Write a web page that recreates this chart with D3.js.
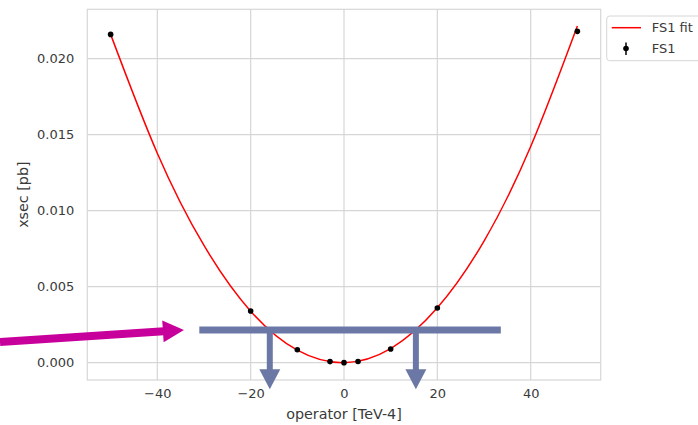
<!DOCTYPE html>
<html>
<head>
<meta charset="utf-8">
<script src="https://cdn.jsdelivr.net/npm/d3@7"></script>
<style>
  body { margin: 0; background: #fff; }
  svg { display: block; font-family: "DejaVu Sans", sans-serif; }
</style>
</head>
<body>
<svg id="chart" width="698" height="425"></svg>
<script>
// measured points (operator value, cross section)
var pointX = [-50, -20, -10, -3, 0, 3, 10, 20, 50];
var pointY = [0.0216, 0.0034, 0.00085, 0.00007, 0.0, 0.00008, 0.0009, 0.0036, 0.0218];

// fit curve
var fitX = [-50, -40, -30, -20, -10, 0, 10, 20, 30, 40, 50];
var fitY = [0.0216, 0.01378, 0.00771, 0.00339, 0.00082, 0.0, 0.00093, 0.00361, 0.0080, 0.01422, 0.02215];

var xTicks = [-40, -20, 0, 20, 40];
var yTicks = [0.000, 0.005, 0.010, 0.015, 0.020];

// annotation overlay, in data units
var limitLevel = 0.00215;
var limitBarX = [-31, 33.6];
var limitCross = [-15.9, 15.4];
var limitTipY = -0.00175;
var pointerFrom = [-73.7, 0.00136];
var pointerTo = [-34.3, 0.00215];

var margin = {top: 9.3, left: 87.3},
    width = 513.4,
    height = 370.7;

var svg = d3.select('#chart');
var g = svg.append('g')
    .attr('transform', 'translate(' + margin.left + ',' + margin.top + ')');

var x = d3.scaleLinear().domain([-55, 55]).range([0, width]);
var y = d3.scaleLinear().domain([-0.00114, 0.02325]).range([height, 0]);

var gridColor = '#d6d6d6',
    textColor = '#3a3a3a';

// grid
g.selectAll('.gx').data(xTicks).enter().append('line')
    .attr('x1', function(d) { return x(d); })
    .attr('x2', function(d) { return x(d); })
    .attr('y1', 0).attr('y2', height)
    .attr('stroke', gridColor).attr('stroke-width', 1.2);
g.selectAll('.gy').data(yTicks).enter().append('line')
    .attr('y1', function(d) { return y(d); })
    .attr('y2', function(d) { return y(d); })
    .attr('x1', 0).attr('x2', width)
    .attr('stroke', gridColor).attr('stroke-width', 1.2);

g.append('rect')
    .attr('width', width).attr('height', height)
    .attr('fill', 'none').attr('stroke', gridColor).attr('stroke-width', 1.2);

// axes (no tick marks, seaborn whitegrid look)
var xAxis = g.append('g')
    .attr('transform', 'translate(0,' + height + ')')
    .call(d3.axisBottom(x).tickValues(xTicks).tickSize(0).tickPadding(9).tickFormat(d3.format('d')));
var yAxis = g.append('g')
    .call(d3.axisLeft(y).tickValues(yTicks).tickSize(0).tickPadding(13).tickFormat(d3.format('.3f')));
[xAxis, yAxis].forEach(function(a) {
    a.select('.domain').remove();
    a.selectAll('text')
        .attr('fill', textColor)
        .style('font-size', '13px')
        .style('font-family', '"DejaVu Sans", sans-serif');
});

// axis labels
svg.append('text')
    .attr('x', margin.left + x(0))
    .attr('y', 419)
    .attr('text-anchor', 'middle')
    .attr('fill', textColor)
    .style('font-size', '14.3px')
    .text('operator [TeV-4]');
svg.append('text')
    .attr('transform', 'translate(27.5,' + (margin.top + height / 2) + ') rotate(-90)')
    .attr('text-anchor', 'middle')
    .attr('fill', textColor)
    .style('font-size', '14.3px')
    .text('xsec [pb]');

// fit curve
var fitLine = d3.line()
    .x(function(d) { return x(d[0]); })
    .y(function(d) { return y(d[1]); })
    .curve(d3.curveNatural);
g.append('path')
    .datum(d3.zip(fitX, fitY))
    .attr('d', fitLine)
    .attr('fill', 'none')
    .attr('stroke', '#ff0000')
    .attr('stroke-width', 1.5);

// data points
g.selectAll('.pt').data(d3.zip(pointX, pointY)).enter().append('circle')
    .attr('cx', function(d) { return x(d[0]); })
    .attr('cy', function(d) { return y(d[1]); })
    .attr('r', 2.8)
    .attr('fill', '#000');

// legend
var legend = svg.append('g');
legend.append('rect')
    .attr('x', 606.7).attr('y', 16)
    .attr('width', 110).attr('height', 44.7)
    .attr('rx', 3)
    .attr('fill', '#fff').attr('fill-opacity', 0.8)
    .attr('stroke', gridColor);
legend.append('line')
    .attr('x1', 611.7).attr('x2', 641)
    .attr('y1', 27.7).attr('y2', 27.7)
    .attr('stroke', '#ff0000').attr('stroke-width', 1.5);
legend.append('line')
    .attr('x1', 626).attr('x2', 626)
    .attr('y1', 42.5).attr('y2', 55)
    .attr('stroke', '#000').attr('stroke-width', 1.5);
legend.append('circle')
    .attr('cx', 626).attr('cy', 48.5).attr('r', 2.8).attr('fill', '#000');
legend.selectAll('.lt').data(['FS1 fit', 'FS1']).enter().append('text')
    .attr('x', 651.7)
    .attr('y', function(d, i) { return 32.3 + i * 20.7; })
    .attr('fill', textColor)
    .style('font-size', '13px')
    .text(function(d) { return d; });

// arrows drawn in pixel space
function arrow(parent, x1, y1, x2, y2, shaftW, headL, headW, color) {
    var dx = x2 - x1, dy = y2 - y1,
        len = Math.sqrt(dx * dx + dy * dy),
        ux = dx / len, uy = dy / len,
        px = -uy, py = ux,
        bx = x2 - ux * headL, by = y2 - uy * headL;
    parent.append('line')
        .attr('x1', x1).attr('y1', y1)
        .attr('x2', bx + ux).attr('y2', by + uy)
        .attr('stroke', color).attr('stroke-width', shaftW);
    parent.append('path')
        .attr('d', 'M' + x2 + ',' + y2 +
            'L' + (bx + px * headW / 2) + ',' + (by + py * headW / 2) +
            'L' + (bx - px * headW / 2) + ',' + (by - py * headW / 2) + 'Z')
        .attr('fill', color);
}

var over = svg.append('g')
    .attr('transform', 'translate(' + margin.left + ',' + margin.top + ')');
var slate = '#6b78a5';

over.append('line')
    .attr('x1', x(limitBarX[0])).attr('x2', x(limitBarX[1]))
    .attr('y1', y(limitLevel)).attr('y2', y(limitLevel))
    .attr('stroke', slate).attr('stroke-width', 7);

limitCross.forEach(function(c) {
    arrow(over, x(c), y(limitLevel), x(c), y(limitTipY), 6, 20, 21, slate);
});

arrow(over, x(pointerFrom[0]), y(pointerFrom[1]), x(pointerTo[0]), y(pointerTo[1]), 8, 21, 22, '#c8009b');
</script>
</body>
</html>
